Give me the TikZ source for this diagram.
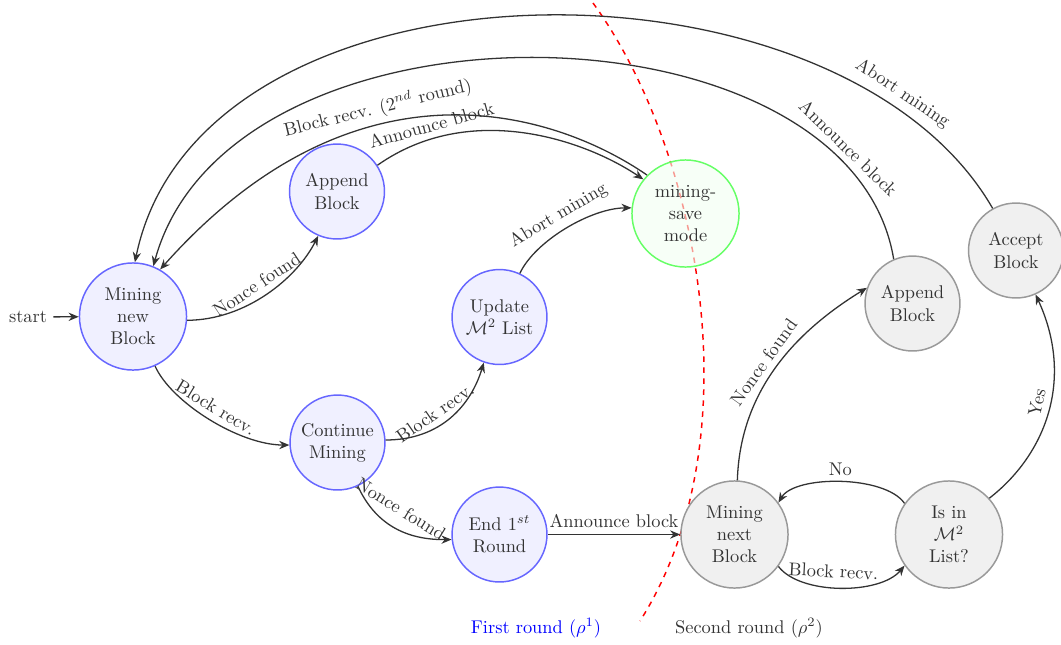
\documentclass[tikz,border=0pt]{standalone}
\usetikzlibrary{arrows.meta}
\begin{document}
\begin{tikzpicture}[x=0.5435pt,y=-0.5435pt,
  txt/.style={text=black!80},
  st/.style={circle, thick, align=center, inner sep=0pt, text=black!80},
  bl/.style={st, draw=blue!60, fill=blue!6},
  gr/.style={st, draw=black!40, fill=black!6},
  sm/.style={minimum size=51.6pt},
  bg/.style={minimum size=58.2pt},
  edge/.style={draw=black!80, line width=0.7pt, -{Stealth[length=5.5pt,width=4.5pt]}},
  lab/.style={sloped, above, text=black!80, inner sep=3.3pt},
]
\useasboundingbox (0,0) rectangle (1061,644);

% separator between rounds
\draw[red, dashed, thick] (593,3) .. controls (700,150) and (755,440) .. (640,621);

% first round states
\node[bl,bg] (mnb) at (133,316.5) {Mining\\new\\Block};
\node[bl,sm] (ab1) at (337,191.5) {Append\\Block};
\node[bl,sm] (upd) at (499.5,317) {Update\\$\mathcal{M}^2$ List};
\node[bl,sm] (cm) at (337.5,442.5) {Continue\\Mining};
\node[bl,sm] (end1) at (499.5,534.5) {End $1^{st}$\\Round};
\node[st,bg,draw=green!60,fill=green!5,fill opacity=0.6,text opacity=1] (msm) at (685.5,213.5) {mining-\\save\\mode};

% second round states
\node[gr,bg] (mnx) at (734.5,534.5) {Mining\\next\\Block};
\node[gr,bg] (isin) at (949,534.5) {Is in\\$\mathcal{M}^2$\\List?};
\node[gr,sm] (ab2) at (912.5,303.5) {Append\\Block};
\node[gr,sm] (acc) at (1016,250.5) {Accept\\Block};

% start
\node[txt] (start) at (28,317) {start};
\draw[edge] (start) -- (mnb);

% edges
\draw[edge] (mnb.-4) .. controls (246,320) and (297,278) .. node[lab,pos=0.48]{Nonce found} (ab1.-113);
\draw[edge] (mnb.-66) .. controls (171,402) and (239,445) .. node[lab,pos=0.5]{Block recv.} (cm.183);
\draw[edge] (cm.3) .. controls (441,440) and (471,405) .. node[lab,pos=0.42]{Block recv.} (upd.-109);
\draw[edge] (cm.-65) .. controls (373,519) and (400,540) .. node[lab,pos=0.5,inner sep=6.5pt]{Nonce found} (end1.186);
\draw[edge] (end1) -- node[above,txt]{Announce block} (mnx);
\draw[edge] (upd.65) .. controls (535,241) and (591,208) .. node[lab,pos=0.5]{Abort mining} (msm.174);
\draw[edge] (ab1.33) .. controls (470,100) and (585,140) .. node[lab,pos=0.2]{Announce block} (msm.141);
\draw[edge] (msm.135) .. controls (560,115) and (360,45) .. node[lab,pos=0.62]{Block recv. ($2^{nd}$ round)} (mnb.60);
\draw[edge] (ab2.113) .. controls (850,-5) and (230,-15) .. node[lab,pos=0.15]{Announce block} (mnb.68);
\draw[edge] (acc.119) .. controls (838,-60) and (200,-54) .. node[lab,pos=0.15]{Abort mining} (mnb.88);
\draw[edge] (mnx.87) .. controls (740,395) and (790,335) .. node[lab,pos=0.5]{Nonce found} (ab2.161);
\draw[edge] (isin.145) .. controls (885,475) and (795,475) .. node[above,txt]{No} (mnx.36);
\draw[edge] (mnx.-36) .. controls (800,595) and (880,595) .. node[lab,pos=0.45,inner sep=5pt]{Block recv.} (isin.-145);
\draw[edge] (isin.42) .. controls (1045,455) and (1075,380) .. node[lab,pos=0.53]{Yes} (acc.-66);

% round captions
\node[text=blue] (r1) at (536,628) {First round ($\rho^1$)};
\node[txt] (r2) at (749,628) {Second round ($\rho^2$)};
\end{tikzpicture}
\end{document}
